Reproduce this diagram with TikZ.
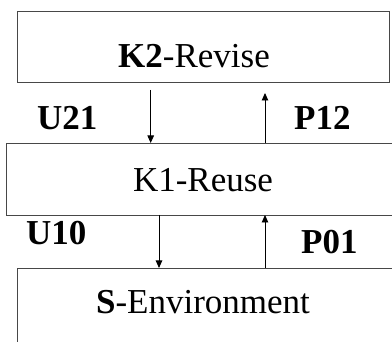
\documentclass[tikz,border=0pt]{standalone}
\usepackage{fontspec}
\setmainfont{Liberation Serif}
\usetikzlibrary{arrows.meta}
\begin{document}
\begin{tikzpicture}[x=1pt,y=-1pt,
  box/.style={draw=black!72,line width=0.9pt,rectangle,inner sep=0pt,outer sep=0pt},
  leveltext/.style={anchor=base,inner sep=0pt,font=\fontsize{35}{42}\selectfont},
  flowtext/.style={anchor=base west,inner sep=0pt,font=\fontsize{35}{42}\selectfont\bfseries},
  link/.style={draw=black,line width=0.9pt,-{Triangle[length=7.5pt,width=6.5pt]}}]
\useasboundingbox (0,0) rectangle (392,342);
\clip (0,0) rectangle (392,342);
% the three levels
\node[box,minimum width=372.5pt,minimum height=70.3pt] (revise) at (203.25,46.85) {};
\node[box,minimum width=394pt,minimum height=72pt] (reuse) at (203,179) {};
\node[box,minimum width=383pt,minimum height=82pt] (env) at (208.5,309) {};
% level names
\node[leveltext] (trevise) at (194,68) {\textbf{K2}-Revise};
\node[leveltext] (treuse) at (203,192) {K1-Reuse};
\node[leveltext] (tenv) at (203,314) {\textbf{S}-Environment};
% flow labels
\node[flowtext] (u21) at (37,130) {U21};
\node[flowtext] (p12) at (294,130) {P12};
\node[flowtext] (u10) at (26,245) {U10};
\node[flowtext] (p01) at (301,254) {P01};
% loose ends below the top box
\coordinate (u21top) at (150.7,90);
\coordinate (p12top) at (265,93);
% connectors
\draw[link] (u21top) -- (u21top |- reuse.north);
\draw[link] (265,0 |- reuse.north) -- (p12top);
\draw[link] (159,0 |- reuse.south) -- (159,0 |- env.north);
\draw[link] (265,0 |- env.north) -- (265,0 |- reuse.south);
\end{tikzpicture}
\end{document}
